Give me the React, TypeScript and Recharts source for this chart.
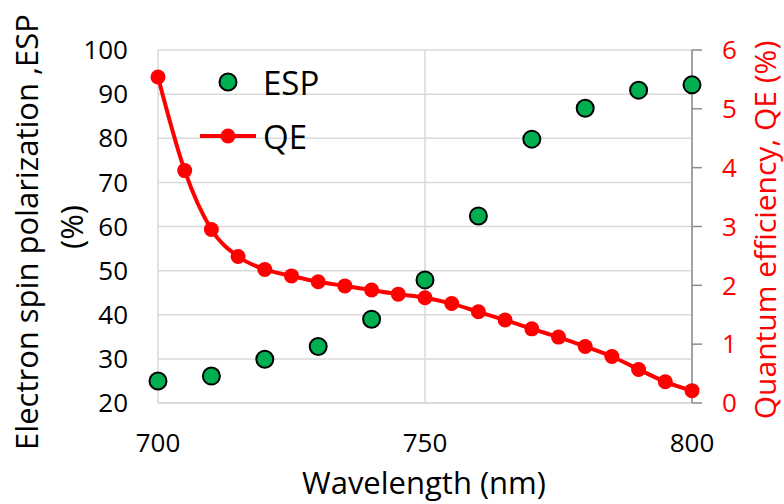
import { ComposedChart, Scatter, Line, XAxis, YAxis, CartesianGrid, Legend } from 'recharts'

// ESP measured every 10 nm
const espWavelength = [700, 710, 720, 730, 740, 750, 760, 770, 780, 790, 800]
const espValues = [25, 26.1, 29.9, 32.8, 39.0, 47.9, 62.4, 79.8, 86.8, 90.9, 92.1]

// QE measured every 5 nm
const qeWavelength = [
  700, 705, 710, 715, 720, 725, 730, 735, 740, 745, 750,
  755, 760, 765, 770, 775, 780, 785, 790, 795, 800,
]
const qeValues = [
  5.54, 3.95, 2.95, 2.49, 2.27, 2.16, 2.06, 1.99, 1.92, 1.85, 1.79,
  1.69, 1.55, 1.41, 1.26, 1.12, 0.96, 0.79, 0.57, 0.36, 0.21,
]

const xTicks = [700, 750, 800]
const leftTicks = [20, 30, 40, 50, 60, 70, 80, 90, 100]
const rightTicks = [0, 1, 2, 3, 4, 5, 6]

const FONT = '"Open Sans", "Noto Sans", sans-serif'
const GREEN = '#00B050'
const RED = '#FF0000'
const GRID = '#D9D9D9'

const espData = espWavelength.map((w, i) => ({ wl: w, esp: espValues[i] }))
const qeData = qeWavelength.map((w, i) => ({ wl: w, qe: qeValues[i] }))

function EspDot(props: any) {
  const { cx, cy } = props
  if (cx == null || cy == null) return null
  return <circle cx={cx} cy={cy} r={8.5} fill={GREEN} stroke="#000" strokeWidth={2} />
}

function LegendBox() {
  return (
    <div style={{ fontFamily: FONT, fontSize: 33, color: '#000', lineHeight: 1 }}>
      <div style={{ display: 'flex', alignItems: 'center', height: 54 }}>
        <svg width={66} height={24}>
          <circle cx={33} cy={12} r={8.5} fill={GREEN} stroke="#000" strokeWidth={2} />
        </svg>
        <span style={{ marginLeft: 2 }}>ESP</span>
      </div>
      <div style={{ display: 'flex', alignItems: 'center', height: 54 }}>
        <svg width={66} height={24}>
          <line x1={5} y1={12} x2={61} y2={12} stroke={RED} strokeWidth={4} />
          <circle cx={33} cy={12} r={7.5} fill={RED} />
        </svg>
        <span style={{ marginLeft: 2 }}>QE</span>
      </div>
    </div>
  )
}

export default function App() {
  return (
    <div style={{ position: 'absolute', left: 0, top: 0, width: 784, height: 504, background: '#fff' }}>
      <ComposedChart
        width={784}
        height={504}
        margin={{ top: 50, right: 32, bottom: 51, left: 98 }}
        style={{ fontFamily: FONT }}
      >
        <CartesianGrid yAxisId="left" stroke={GRID} strokeWidth={1.5} />
        <XAxis
          dataKey="wl"
          type="number"
          domain={[700, 800]}
          ticks={xTicks}
          interval={0}
          tickSize={0}
          tickMargin={31}
          tickLine={false}
          axisLine={{ stroke: GRID, strokeWidth: 1.5 }}
          tick={{ fill: '#000', fontSize: 26, fontFamily: FONT }}
          height={50}
          label={{
            content: () => (
              <text x={424} y={494} textAnchor="middle" fontSize={31} fill="#000" fontFamily={FONT}>
                Wavelength (nm)
              </text>
            ),
          }}
        />
        <YAxis
          yAxisId="left"
          type="number"
          domain={[20, 100]}
          ticks={leftTicks}
          interval={0}
          width={60}
          tickSize={0}
          tickMargin={30}
          tickLine={false}
          axisLine={false}
          tick={{ fill: '#000', fontSize: 26, fontFamily: FONT }}
          label={{
            content: () => (
              <g fontFamily={FONT} fontSize={31} fill="#000">
                <text x={38} y={232} textAnchor="middle" transform="rotate(-90 38 232)">
                  Electron spin polarization ,ESP
                </text>
                <text x={83} y={227} textAnchor="middle" transform="rotate(-90 83 227)">
                  (%)
                </text>
              </g>
            ),
          }}
        />
        <YAxis
          yAxisId="right"
          orientation="right"
          type="number"
          domain={[0, 6]}
          ticks={rightTicks}
          interval={0}
          width={60}
          tickSize={10}
          tickMargin={20}
          tickLine={{ stroke: '#8C8C8C', strokeWidth: 1.5 }}
          axisLine={{ stroke: '#8C8C8C', strokeWidth: 1.5 }}
          tick={{ fill: RED, fontSize: 26, fontFamily: FONT, textAnchor: 'start' }}
          label={{
            content: () => (
              <text
                x={776}
                y={230}
                textAnchor="middle"
                transform="rotate(-90 776 230)"
                fontSize={30}
                fill={RED}
                fontFamily={FONT}
              >
                Quantum efficiency, QE (%)
              </text>
            ),
          }}
        />
        <Legend
          layout="vertical"
          align="center"
          verticalAlign="middle"
          content={() => <LegendBox />}
          wrapperStyle={{ position: 'absolute', left: 195, top: 55, width: 'auto', height: 'auto' }}
        />
        <Scatter
          name="ESP"
          yAxisId="left"
          data={espData}
          dataKey="esp"
          shape={EspDot}
          isAnimationActive={false}
        />
        <Line
          name="QE"
          yAxisId="right"
          data={qeData}
          dataKey="qe"
          type="monotone"
          stroke={RED}
          strokeWidth={4}
          dot={{ r: 7.5, fill: RED, stroke: 'none' }}
          activeDot={false}
          isAnimationActive={false}
        />
      </ComposedChart>
    </div>
  )
}
